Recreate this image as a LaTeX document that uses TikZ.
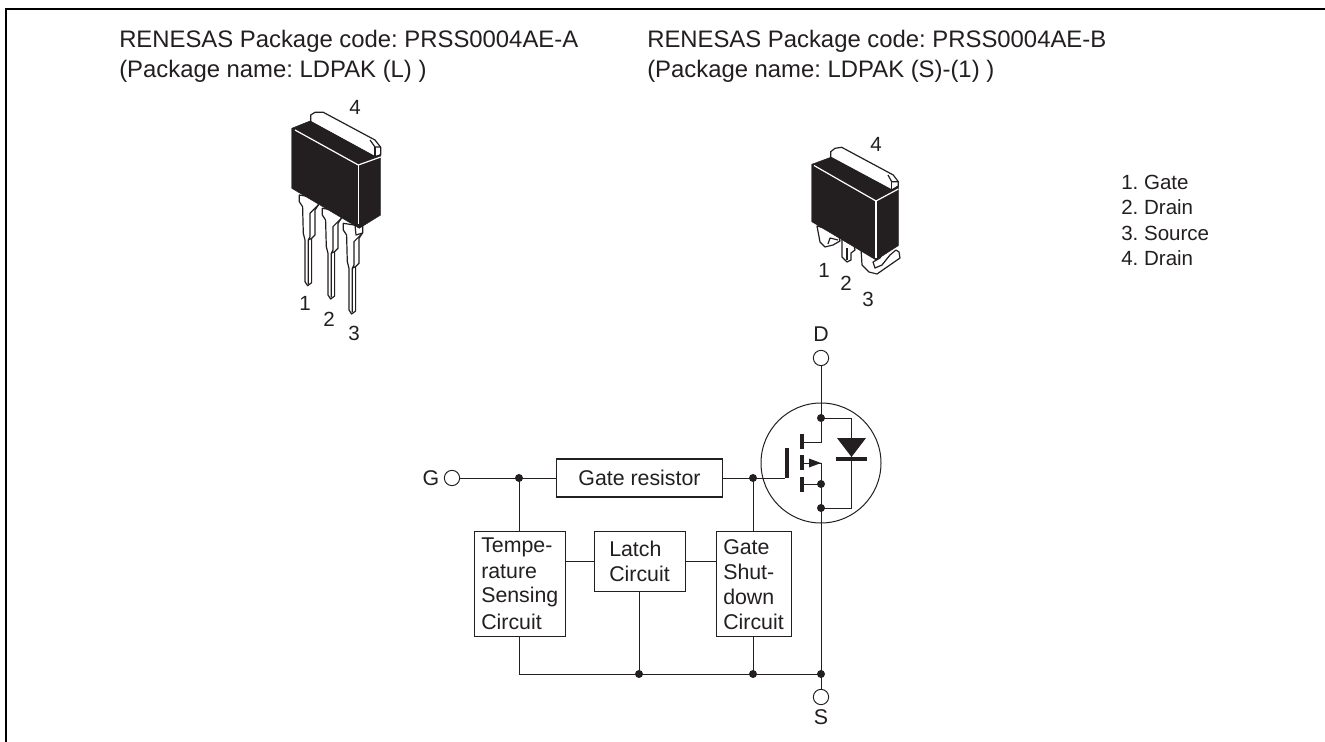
\documentclass[tikz,border=0pt]{standalone}
\usepackage{fontspec}
\setmainfont{Liberation Sans}
\definecolor{ink}{HTML}{231F20}
\tikzset{
  x=0.75pt,y=-0.75pt,
  wire/.style={draw=ink,line width=0.75pt},
  hdr/.style={anchor=base west,inner sep=0pt,text=ink,font=\fontsize{17.9pt}{20pt}\selectfont},
  lst/.style={anchor=base west,inner sep=0pt,text=ink,font=\fontsize{15.4pt}{18pt}\selectfont},
  txt/.style={anchor=west,inner sep=0pt,text=ink,font=\fontsize{16pt}{19pt}\selectfont},
  lbl/.style={inner sep=0pt,text=ink,font=\fontsize{15.4pt}{18pt}\selectfont},
  blockbox/.style={draw=ink,line width=0.85pt,fill=white,inner sep=0pt},
  term/.style={circle,draw=ink,line width=0.7pt,fill=white,minimum size=11.5pt,inner sep=0pt},
  jn/.style={circle,fill=ink,minimum size=6pt,inner sep=0pt},
  pkg/.style={fill=ink,draw=ink,line width=0.3pt,line join=round},
  tab/.style={fill=white,draw=ink,line width=0.9pt,line join=round},
  thin/.style={draw=ink,line width=0.9pt,line join=round},
  hilite/.style={draw=white,line width=0.9pt},
  bar/.style={draw=ink,line width=2.6pt}
}
\newcommand{\leadpin}[1]{%
  \begin{scope}[shift={#1}]
    \draw[tab] (0,0) -- (0,6.7) -- (3.3,11.7) -- (4,38.3) -- (5.7,45) -- (5.7,86.7) -- (8.3,90.7) -- (12.3,87.7) -- (12.3,43.3) -- (15.7,40) -- (15.7,15) -- (19,10) -- (19,3) -- cycle;
    \draw[thin] (19,10) -- (10.7,18.3) -- (10.7,41.7) -- (9,45) -- (9,89);
    \draw[thin] (9,45) -- (12.3,43.3);
  \end{scope}}
\begin{document}
\frenchspacing
\begin{tikzpicture}
\useasboundingbox (0,0) rectangle (1325,742);
\fill[white] (0,0) rectangle (1325,742);
\draw[draw=black,line width=1.5pt] (6,742) -- (6,9) -- (1325,9);
% headers
\node[hdr] (h1) at (119,47.5) {RENESAS Package code: PRSS0004AE-A};
\node[hdr] (h2) at (119,78) {(Package name: LDPAK (L) )};
\node[hdr] (h3) at (647,47.5) {RENESAS Package code: PRSS0004AE-B};
\node[hdr] (h4) at (647,78) {(Package name: LDPAK (S)-(1) )};
\node[lst] (p1) at (1121,189) {1. Gate};
\node[lst] (p2) at (1121,214.5) {2. Drain};
\node[lst] (p3) at (1121,240) {3. Source};
\node[lst] (p4) at (1121,265.5) {4. Drain};
% left package
\node[lbl] (n4a) at (355,107) {4};
\node[lbl] (n1a) at (305,303) {1};
\node[lbl] (n2a) at (329,319) {2};
\node[lbl] (n3a) at (354,333) {3};
\leadpin{(299.3,195)}
\leadpin{(322.3,208.3)}
\leadpin{(343.3,223.3)}
\draw[tab] (355,225) -- (362.7,225) -- (362.7,233) -- (356,235) -- cycle;
\draw[tab] (310.7,121.7) -- (310.7,115) -- (315,112.3) -- (323.3,112.3) -- (375,140) -- (380.7,147.3) -- (380.7,155) -- (375,156.7) -- cycle;
\draw[thin] (370,140) -- (375,147) -- (380.7,147);
\draw[thin] (375,147) -- (375,156.7);
\fill[pkg] (291.7,128.3) -- (310,121) -- (375,156.7) -- (380.7,154.3) -- (380.7,215) -- (359.3,228.3) -- (291.7,188.3) -- cycle;
\draw[hilite] (295,130) -- (358.3,165) -- (380.7,157);
\draw[hilite] (358.3,165) -- (358.3,224);
% right package
\node[lbl] (n4b) at (876,144) {4};
\node[lbl] (n1b) at (824,270) {1};
\node[lbl] (n2b) at (846,283) {2};
\node[lbl] (n3b) at (868,299) {3};
\draw[tab] (817,226) -- (820,242) -- (825,247) -- (833,245) -- (840,241) -- (838,232) -- cycle;
\draw[thin] (828,244) -- (830,238) -- (838,240);
\draw[tab] (842,238) -- (842,257) -- (847,262) -- (851,260) -- (851,253) -- (855,250) -- (853,240) -- cycle;
\draw[thin] (847,248) -- (847,260);
\draw[tab] (861,248) -- (862,265) -- (869,272) -- (877,274) -- (900,258) -- (899,252) -- (896,250) -- (890,255) -- (882,265) -- (875,268) -- (873,262) -- (880,258) -- (884,252) -- cycle;
\draw[tab] (830.7,157.3) -- (830.7,151.7) -- (835,148.3) -- (841.7,147.3) -- (893.3,175) -- (898.3,181.7) -- (898.3,186) -- (891.7,190) -- cycle;
\draw[thin] (888,175) -- (891.7,181.7) -- (898.3,181.7);
\draw[thin] (891.7,181.7) -- (891.7,190);
\fill[pkg] (811.7,164.3) -- (830.7,157.3) -- (891.7,190) -- (898.3,186) -- (898.3,245.7) -- (876,260) -- (811.7,221.7) -- cycle;
\draw[hilite] (814,165.5) -- (876,201) -- (898.3,189);
\draw[hilite] (876,201) -- (876,258);
% blocks
\node[blockbox,minimum width=125pt,minimum height=28.5pt] (gr) at (639.5,478) {};
\node[lbl,font=\fontsize{16pt}{19pt}\selectfont] at (639.5,478) {Gate resistor};
\node[blockbox,minimum width=68pt,minimum height=79pt,anchor=north west] (ts) at (474,531) {};
\node[blockbox,minimum width=68pt,minimum height=45pt,anchor=north west] (la) at (594,531) {};
\node[blockbox,minimum width=56.5pt,minimum height=79pt,anchor=north west] (gs) at (716,531) {};
\node[txt] at (481,547) {Tempe-};
\node[txt] at (481,572) {rature};
\node[txt] at (481,597) {Sensing};
\node[txt] at (481,622) {Circuit};
\node[txt] at (609,549) {Latch};
\node[txt] at (609,574) {Circuit};
\node[txt] at (723,547) {Gate};
\node[txt] at (723,572) {Shut-};
\node[txt] at (723,597) {down};
\node[txt] at (723,622) {Circuit};
% terminals
\node[lbl,font=\fontsize{16pt}{19pt}\selectfont] (gl) at (431,478) {G};
\node[term] (gt) at (452,478) {};
\node[lbl,font=\fontsize{16pt}{19pt}\selectfont] (dl) at (821,334) {D};
\node[term] (dt) at (821,358) {};
\node[term] (st) at (821,697) {};
\node[lbl,font=\fontsize{16pt}{19pt}\selectfont] (sl) at (821,717) {S};
% junctions
\coordinate (j1) at (519,478);
\coordinate (j2) at (753,478);
\coordinate (jd) at (821,418);
\coordinate (js1) at (821,484);
\coordinate (js2) at (821,508);
\coordinate (jb) at (821,674);
\coordinate (jl) at (639,674);
\coordinate (jg) at (753,674);
\coordinate (gb) at (785,478);
% mosfet circle
\draw[draw=ink,line width=0.75pt] (821,463) circle [radius=60];
% wiring
\draw[wire] (gt) -- (gr);
\draw[wire] (gr) -- (gb);
\draw[wire] (j1) -- (ts.north -| j1);
\draw[wire] (j2) -- (gs.north -| j2);
\draw[wire] (ts.east |- 0,561) -- (la.west |- 0,561);
\draw[wire] (la.east |- 0,561) -- (gs.west |- 0,561);
\draw[wire] (ts.south -| j1) -- (j1 |- jb) -- (jb);
\draw[wire] (la.south -| jl) -- (jl);
\draw[wire] (gs.south -| jg) -- (jg);
\draw[wire] (dt) -- (jd);
\draw[wire] (jd) -- (821,442) -- (802,442);
\draw[wire] (802,463) -- (821,463) -- (js1);
\draw[wire] (802,484) -- (js1);
\draw[wire] (js1) -- (jb);
\draw[wire] (jb) -- (st);
\draw[wire] (jd) -- (851,418) -- (851,508) -- (js2);
% mosfet bars
\draw[bar] (787,448) -- (787,478);
\draw[bar] (802,434) -- (802,449);
\draw[bar] (802,455) -- (802,470);
\draw[bar] (802,477) -- (802,492);
\fill[ink] (821,463) -- (809,458.5) -- (809,467.5) -- cycle;
% diode
\fill[ink] (837,438) -- (866,438) -- (851.5,457) -- cycle;
\draw[draw=ink,line width=2.6pt] (836,459) -- (867,459);
% dots
\foreach \p in {j1,j2,jd,js1,js2,jb,jl,jg} \node[jn] at (\p) {};
\end{tikzpicture}
\end{document}
